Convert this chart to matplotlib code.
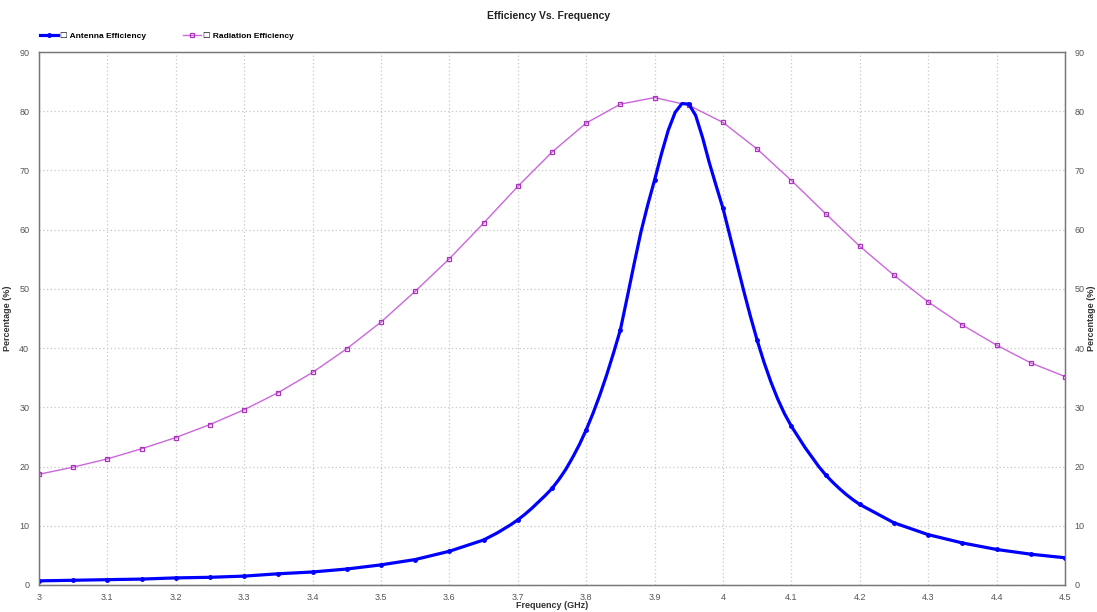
import matplotlib
matplotlib.use("Agg")
import matplotlib.pyplot as plt
from matplotlib.ticker import MultipleLocator, FormatStrFormatter

plt.rcParams["font.family"] = ["Liberation Sans", "DejaVu Sans"]

# radiation efficiency, 0.05 GHz steps
rad_freq = [3.0, 3.05, 3.1, 3.15, 3.2, 3.25, 3.3, 3.35, 3.4, 3.45, 3.5, 3.55,
            3.6, 3.65, 3.7, 3.75, 3.8, 3.85, 3.9, 3.95, 4.0, 4.05, 4.1, 4.15,
            4.2, 4.25, 4.3, 4.35, 4.4, 4.45, 4.5]
rad_eff = [18.7, 19.9, 21.3, 23.0, 24.9, 27.1, 29.6, 32.5, 35.9, 39.9, 44.4, 49.6,
           55.1, 61.1, 67.3, 73.1, 78.0, 81.2, 82.3, 81.0, 78.1, 73.6, 68.3, 62.7,
           57.2, 52.3, 47.8, 43.9, 40.5, 37.5, 35.2]

# antenna efficiency, finer steps near the resonance
ant_freq = [3.0, 3.05, 3.1, 3.15, 3.2, 3.25, 3.3, 3.35, 3.4, 3.45, 3.5, 3.55,
            3.6, 3.65, 3.66, 3.67, 3.68, 3.69,
            3.7, 3.71, 3.72, 3.73, 3.74, 3.75, 3.76, 3.77, 3.78, 3.79,
            3.8, 3.81, 3.82, 3.83, 3.84, 3.85, 3.86, 3.87, 3.88, 3.89,
            3.9, 3.91, 3.92, 3.93, 3.94, 3.95, 3.96, 3.97, 3.98, 3.99,
            4.0, 4.01, 4.02, 4.03, 4.04, 4.05, 4.06, 4.07, 4.08, 4.09,
            4.1, 4.11, 4.12, 4.13, 4.14, 4.15, 4.16, 4.17, 4.18, 4.19,
            4.2, 4.25, 4.3, 4.35, 4.4, 4.45, 4.5]
ant_eff = [0.7, 0.8, 0.9, 1.0, 1.2, 1.3, 1.5, 1.9, 2.2, 2.7, 3.4, 4.3,
           5.7, 7.6, 8.2, 8.8, 9.5, 10.2,
           11.0, 11.9, 12.9, 14.0, 15.1, 16.3, 17.8, 19.5, 21.5, 23.7,
           26.2, 29.0, 32.1, 35.5, 39.2, 43.1, 48.6, 54.2, 59.6, 64.2,
           68.4, 72.8, 76.8, 79.8, 81.3, 81.2, 79.3, 75.6, 71.3, 67.4,
           63.6, 59.0, 54.4, 49.8, 45.4, 41.3, 37.6, 34.3, 31.4, 28.9,
           26.8, 25.0, 23.2, 21.6, 20.0, 18.6, 17.4, 16.3, 15.3, 14.4,
           13.6, 10.5, 8.5, 7.1, 6.0, 5.2, 4.6]

ant_marks = [i for i, f in enumerate(ant_freq) if abs(round(f * 20) - f * 20) < 1e-6]

fig = plt.figure(figsize=(10.97, 6.12), dpi=100)
ax = fig.add_axes([39 / 1097, 1 - 585 / 612, (1065 - 39) / 1097, (585 - 52) / 612])

blue = "#0000ff"
purple = "#cc66dd"

ax.plot(rad_freq, rad_eff, color=purple, lw=1, marker="s", ms=3,
        mfc="none", mec="#aa33bb", mew=0.9,
        label="\u2610 Radiation Efficiency", zorder=3)
ax.plot(ant_freq, ant_eff, color=blue, lw=2.3, marker="o", ms=2.5,
        markevery=ant_marks, label="\u2610 Antenna Efficiency", zorder=4)

ax.set_xlim(3, 4.5)
ax.set_ylim(0, 90)
ax.xaxis.set_major_locator(MultipleLocator(0.1))
ax.yaxis.set_major_locator(MultipleLocator(10))
ax.xaxis.set_major_formatter(FormatStrFormatter("%g"))
ax.grid(True, color="#c8c8c8", ls=(0, (1, 2)), lw=0.9)

tick_color = "#555555"
ax.tick_params(labelsize=6.5, colors=tick_color, length=0, pad=7)
ax.tick_params(axis="x", pad=6)
for s in ax.spines.values():
    s.set_color("#777777")
    s.set_linewidth(1)

ax2 = ax.twinx()
ax2.set_ylim(0, 90)
ax2.yaxis.set_major_locator(MultipleLocator(10))
ax2.tick_params(labelsize=6.5, colors=tick_color, length=0, pad=7)
for s in ax2.spines.values():
    s.set_color("#777777")

ax.set_xlabel("Frequency (GHz)", fontsize=6.5, fontweight="bold", color="#333333")
ax.xaxis.set_label_coords(0.5, -0.03)
ax.set_ylabel("Percentage (%)", fontsize=6.5, fontweight="bold", color="#333333")
ax.yaxis.set_label_coords(-0.026, 0.5)
ax2.set_ylabel("Percentage (%)", fontsize=6.5, fontweight="bold", color="#333333",
               rotation=90)
ax2.yaxis.set_label_coords(1.0215, 0.5)

fig.text(0.5, 1 - 16 / 612, "Efficiency Vs. Frequency", ha="center", va="center",
         fontsize=7.5, fontweight="bold", color="#222222")

h, l = ax.get_legend_handles_labels()
fig.legend(h[::-1], l[::-1], loc="center left", bbox_to_anchor=(32 / 1097, 1 - 36 / 612),
           ncol=2, frameon=False, prop={"size": 6, "weight": "bold"},
           handlelength=2.2, handletextpad=0.2, columnspacing=4.5)

fig.savefig("out.png", dpi=100)
